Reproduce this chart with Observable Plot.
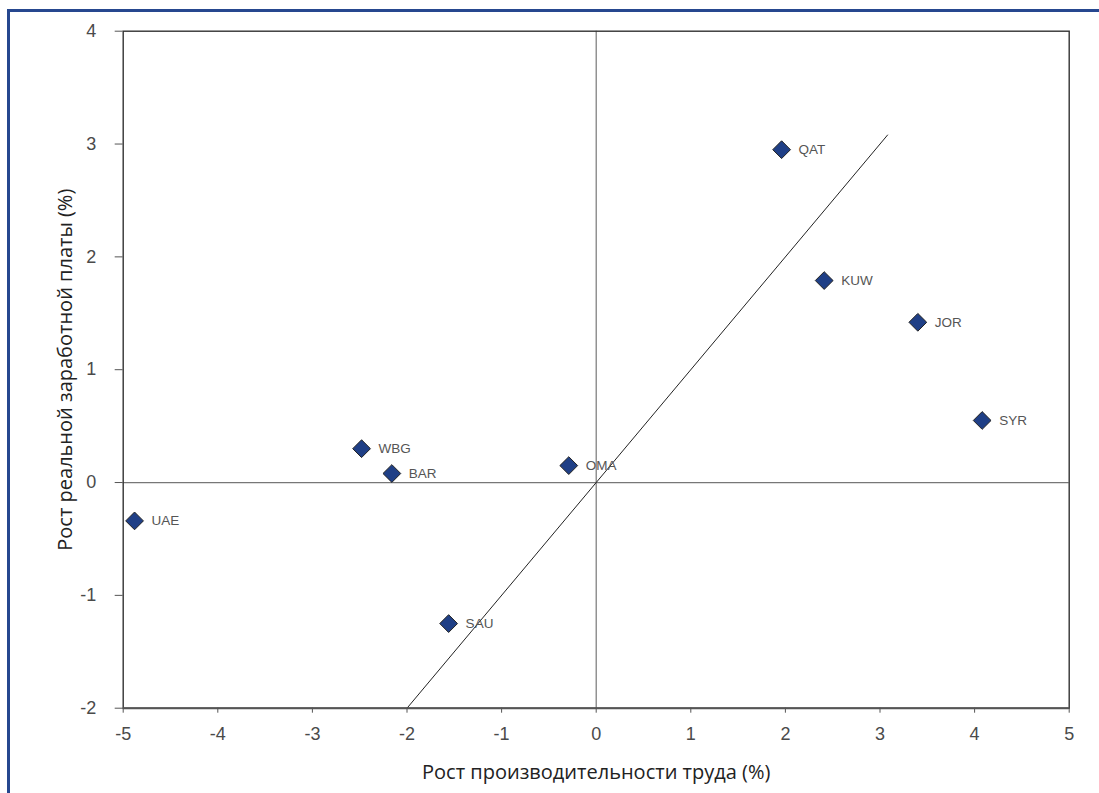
<!DOCTYPE html>
<html>
<head>
<meta charset="utf-8">
<script src="https://cdn.jsdelivr.net/npm/d3@7"></script>
<script src="https://cdn.jsdelivr.net/npm/@observablehq/plot@0.6"></script>
<style>
  html, body { margin: 0; padding: 0; background: #fff; }
  #wrap { position: relative; width: 1099px; height: 793px; overflow: hidden; }
  #chart { position: absolute; left: 0; top: 0; }
  #frame { position: absolute; left: 7px; top: 9px; width: 1200px; height: 900px;
           border-top: 3px solid #26478f; border-left: 3px solid #26478f; pointer-events: none; }
</style>
</head>
<body>
<div id="wrap"><div id="chart"></div><div id="frame"></div></div>
<script>
const countries = ["QAT", "KUW", "JOR", "SYR", "WBG", "BAR", "UAE", "SAU", "OMA"];
const productivity = [1.96, 2.41, 3.40, 4.08, -2.48, -2.16, -4.88, -1.56, -0.29];
const wages = [2.95, 1.79, 1.42, 0.55, 0.30, 0.08, -0.34, -1.25, 0.15];
const trendX = [-2, 3.08];
const trendY = [-2, 3.08];
const xTicks = [-5, -4, -3, -2, -1, 0, 1, 2, 3, 4, 5];
const yTicks = [-2, -1, 0, 1, 2, 3, 4];
const xTitle = "Рост производительности труда (%)";
const yTitle = "Рост реальной заработной платы (%)";

const points = countries.map((c, i) => ({c, x: productivity[i], y: wages[i]}));
const trend = trendX.map((x, i) => ({x, y: trendY[i]}));

const chart = Plot.plot({
  width: 1099,
  height: 793,
  marginLeft: 122.7,
  marginRight: 30.3,
  marginTop: 30.7,
  marginBottom: 85.3,
  style: {background: "transparent"},
  x: {domain: [-5, 5]},
  y: {domain: [-2, 4]},
  marks: [
    Plot.ruleX([0], {stroke: "#777", strokeWidth: 1.2}),
    Plot.ruleY([0], {stroke: "#777", strokeWidth: 1.2}),
    Plot.line(trend, {x: "x", y: "y", stroke: "#222", strokeWidth: 1}),
    Plot.frame({stroke: "#333", strokeWidth: 1.4}),
    Plot.ruleY([-2], {stroke: "#555", strokeWidth: 2}),
    Plot.axisY({ticks: yTicks, tickSize: 8, tickPadding: 19, tickFormat: d => String(d),
      fontSize: 18, fontFamily: "Liberation Sans", fill: "#4a4a4a", stroke: "#555", label: null}),
    Plot.axisX({ticks: xTicks, tickSize: 5, tickPadding: 14, tickFormat: d => String(d),
      fontSize: 18, fontFamily: "Liberation Sans", fill: "#4a4a4a", stroke: "#555", label: null}),
    Plot.dot(points, {x: "x", y: "y", symbol: "diamond2", r: 8, fill: "#1f3f86", stroke: "#222", strokeWidth: 1}),
    Plot.text(points, {x: "x", y: "y", text: "c", dx: 17, textAnchor: "start",
      fontSize: 13.5, fontFamily: "Liberation Sans", fill: "#555"}),
    Plot.text([xTitle], {frameAnchor: "bottom", dy: 71, textAnchor: "middle", fontSize: 20,
      fontFamily: "Open Sans", fill: "#222"}),
    Plot.text([yTitle], {frameAnchor: "left", dx: -58, rotate: -90, textAnchor: "middle", fontSize: 20,
      fontFamily: "Open Sans", fill: "#222"})
  ]
});
document.getElementById("chart").appendChild(chart);
</script>
</body>
</html>
